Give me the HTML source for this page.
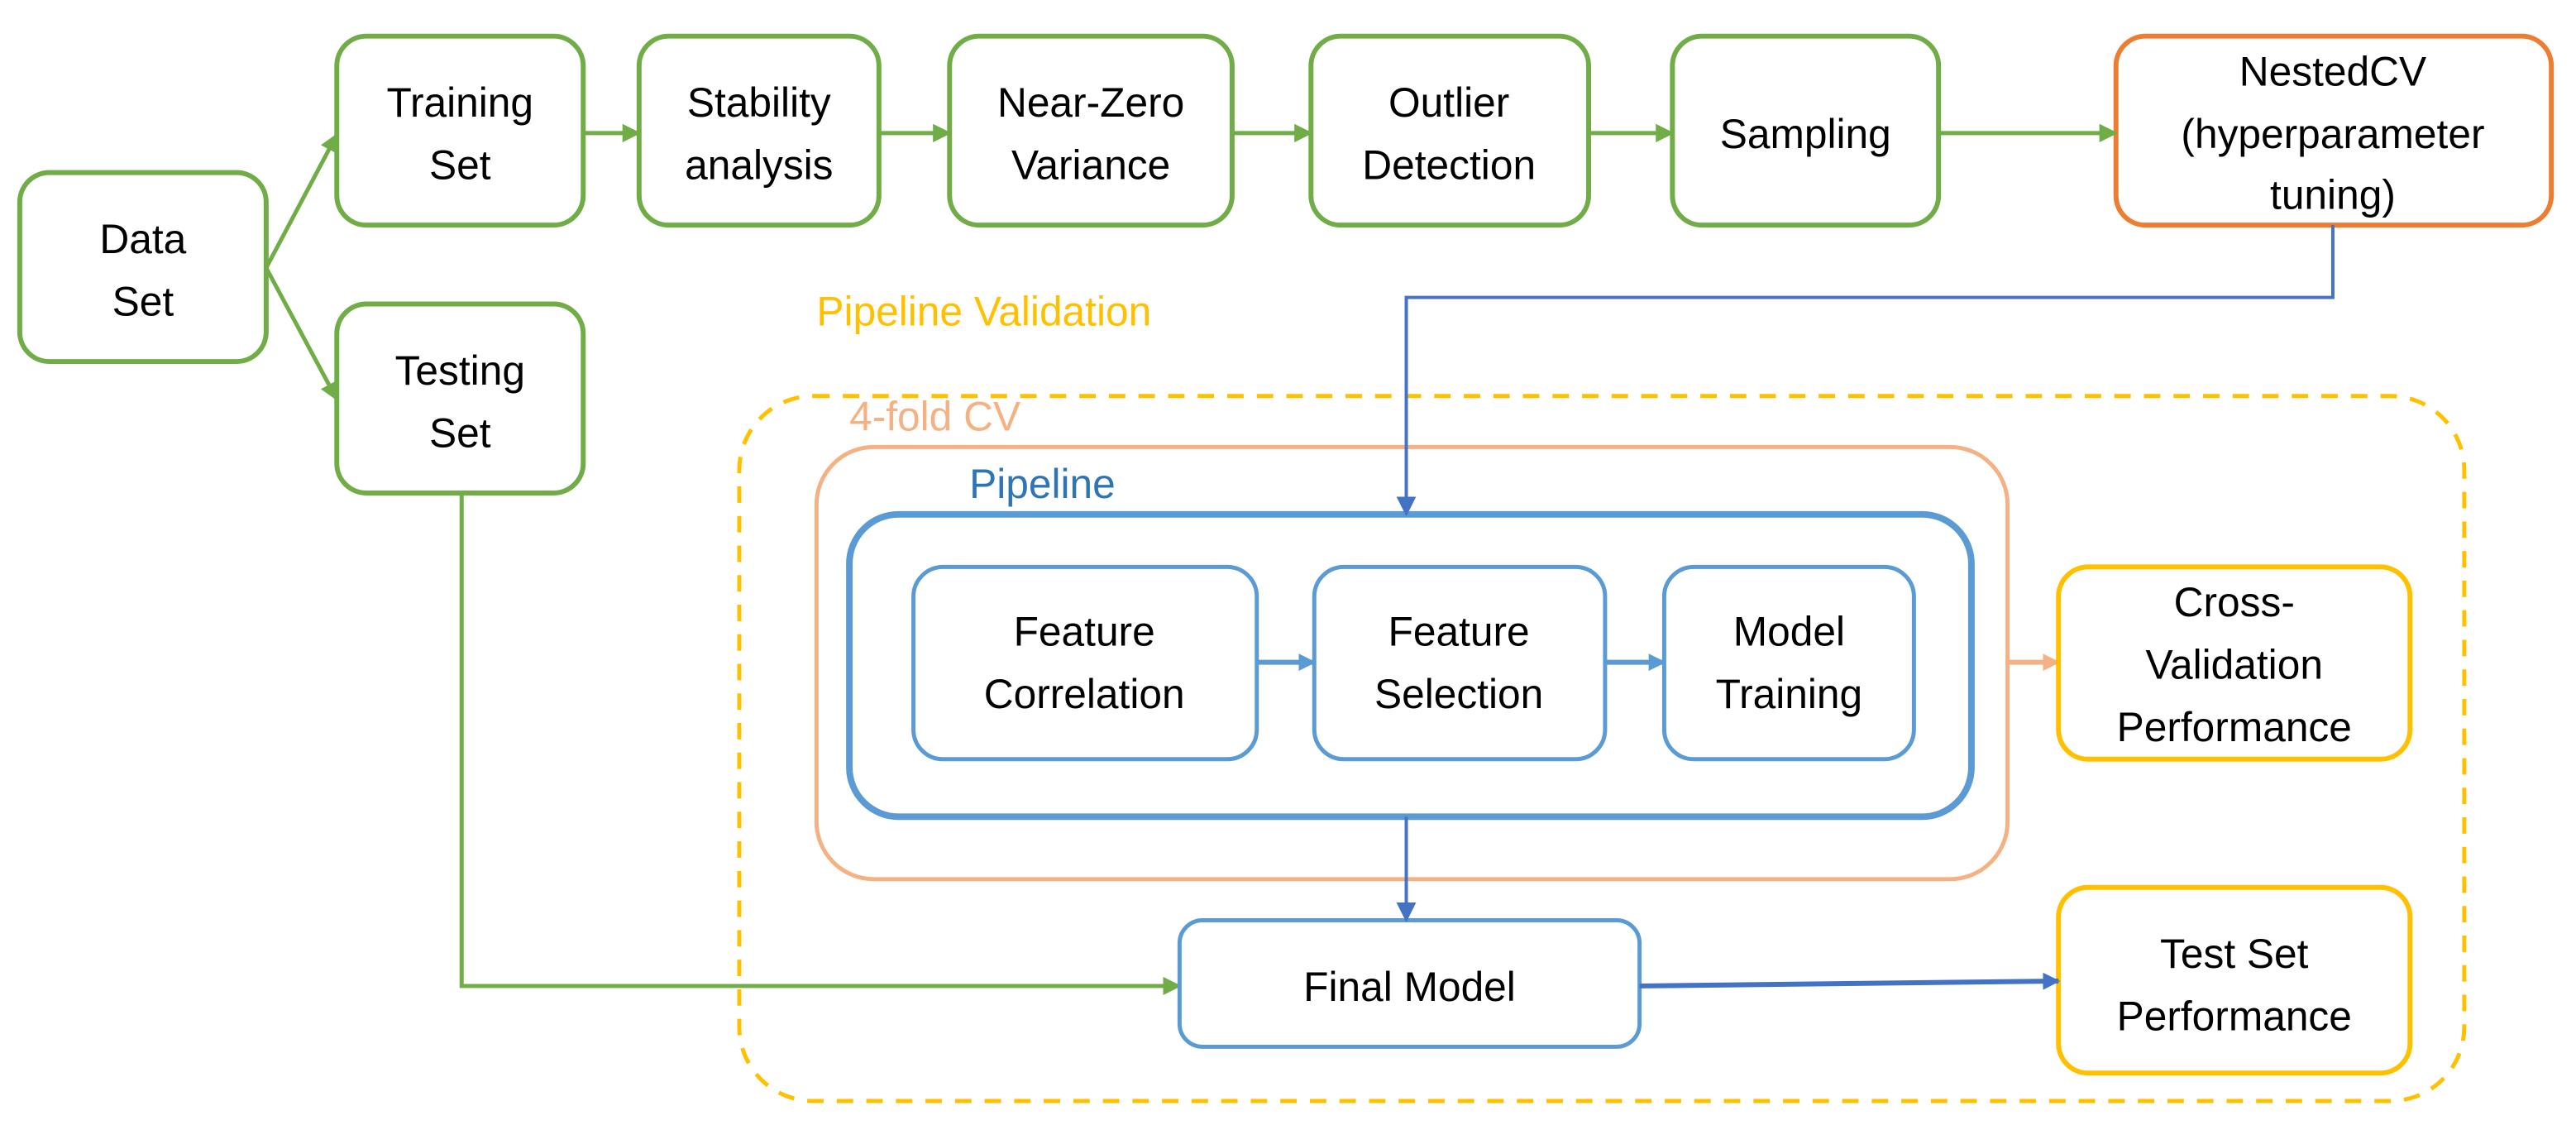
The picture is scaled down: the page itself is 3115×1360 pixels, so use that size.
<!DOCTYPE html>
<html><head><meta charset="utf-8"><style>
html,body{margin:0;padding:0;background:#fff;}
svg{display:block;}
text{font-family:"Liberation Sans",sans-serif;font-size:25px;text-anchor:middle;fill:#000;}
</style></head><body>
<svg width="3115" height="1360" viewBox="0 0 1568 684.6" xmlns="http://www.w3.org/2000/svg">
<defs>
<marker id="ag" viewBox="0 0 10 10" refX="9" refY="5" markerWidth="4.5" markerHeight="4.5" orient="auto" markerUnits="strokeWidth"><path d="M0,0L10,5L0,10z" fill="#70ad47"/></marker>
<marker id="ab" viewBox="0 0 10 10" refX="9" refY="5" markerWidth="6" markerHeight="6" orient="auto" markerUnits="strokeWidth"><path d="M0,0L10,5L0,10z" fill="#4472c4"/></marker>
<marker id="al" viewBox="0 0 10 10" refX="9" refY="5" markerWidth="3.5" markerHeight="3.5" orient="auto" markerUnits="strokeWidth"><path d="M0,0L10,5L0,10z" fill="#5b9bd5"/></marker>
<marker id="ad" viewBox="0 0 10 10" refX="9" refY="5" markerWidth="3.5" markerHeight="3.5" orient="auto" markerUnits="strokeWidth"><path d="M0,0L10,5L0,10z" fill="#4472c4"/></marker>
<marker id="ao" viewBox="0 0 10 10" refX="9" refY="5" markerWidth="3.5" markerHeight="3.5" orient="auto" markerUnits="strokeWidth"><path d="M0,0L10,5L0,10z" fill="#f4b183"/></marker>
</defs>
<g fill="none" stroke="#70ad47" stroke-width="3">
<rect x="12" y="105" width="150" height="115" rx="18"/>
<rect x="205" y="22" width="150" height="115" rx="18"/>
<rect x="389" y="22" width="146" height="115" rx="18"/>
<rect x="578" y="22" width="172" height="115" rx="18"/>
<rect x="798" y="22" width="169" height="115" rx="18"/>
<rect x="1018" y="22" width="162" height="115" rx="18"/>
<rect x="205" y="185" width="150" height="115" rx="18"/>
</g>
<rect x="1288" y="22" width="265" height="115" rx="18" fill="none" stroke="#ed7d31" stroke-width="3"/>
<g stroke="#70ad47" stroke-width="2.5" fill="none">
<line x1="162" y1="163" x2="205" y2="82" marker-end="url(#ag)"/>
<line x1="162" y1="163" x2="205" y2="243" marker-end="url(#ag)"/>
<line x1="355" y1="81" x2="389" y2="81" marker-end="url(#ag)"/>
<line x1="535" y1="81" x2="578" y2="81" marker-end="url(#ag)"/>
<line x1="750" y1="81" x2="798" y2="81" marker-end="url(#ag)"/>
<line x1="967" y1="81" x2="1018" y2="81" marker-end="url(#ag)"/>
<line x1="1180" y1="81" x2="1288" y2="81" marker-end="url(#ag)"/>
<polyline points="281,300 281,600 718,600" marker-end="url(#ag)"/>
</g>
<text x="497" y="198" style="text-anchor:start;fill:#ffc000">Pipeline Validation</text>
<rect x="450" y="241" width="1050" height="429" rx="45" fill="none" stroke="#ffc000" stroke-width="2.5" stroke-dasharray="10,8"/>
<text x="517" y="262" style="text-anchor:start;fill:#f4b183">4-fold CV</text>
<rect x="497" y="272" width="725" height="263" rx="35" fill="none" stroke="#f4b183" stroke-width="2.5"/>
<text x="590" y="303" style="text-anchor:start;fill:#2e75b6">Pipeline</text>
<rect x="517" y="313" width="683" height="184" rx="30" fill="none" stroke="#5b9bd5" stroke-width="4"/>
<g fill="none" stroke="#5b9bd5" stroke-width="2.5">
<rect x="556" y="345" width="209" height="117" rx="18"/>
<rect x="800" y="345" width="177" height="117" rx="18"/>
<rect x="1013" y="345" width="152" height="117" rx="18"/>
<rect x="718" y="560" width="280" height="77" rx="14"/>
<line x1="765" y1="403" x2="800" y2="403" marker-end="url(#al)" stroke-width="3"/>
<line x1="977" y1="403" x2="1013" y2="403" marker-end="url(#al)" stroke-width="3"/>
</g>
<line x1="1222" y1="403" x2="1253" y2="403" stroke="#f4b183" stroke-width="3" marker-end="url(#ao)"/>
<g fill="none" stroke="#ffc000" stroke-width="3">
<rect x="1253" y="345" width="214" height="117" rx="18"/>
<rect x="1253" y="540" width="214" height="113" rx="18"/>
</g>
<g fill="none" stroke="#4472c4">
<polyline points="1420,137 1420,181 856,181 856,313" stroke-width="2" marker-end="url(#ab)"/>
<line x1="856" y1="497" x2="856" y2="560" stroke-width="2" marker-end="url(#ab)"/>
<line x1="998" y1="600" x2="1253" y2="597" stroke-width="3" marker-end="url(#ad)"/>
</g>
<text x="87" y="154">Data</text><text x="87" y="192">Set</text>
<text x="280" y="71">Training</text><text x="280" y="109">Set</text>
<text x="462" y="71">Stability</text><text x="462" y="109">analysis</text>
<text x="664" y="71">Near-Zero</text><text x="664" y="109">Variance</text>
<text x="882" y="71">Outlier</text><text x="882" y="109">Detection</text>
<text x="1099" y="90">Sampling</text>
<text x="1420" y="52">NestedCV</text><text x="1420" y="90">(hyperparameter</text><text x="1420" y="127">tuning)</text>
<text x="280" y="234">Testing</text><text x="280" y="272">Set</text>
<text x="660" y="393">Feature</text><text x="660" y="431">Correlation</text>
<text x="888" y="393">Feature</text><text x="888" y="431">Selection</text>
<text x="1089" y="393">Model</text><text x="1089" y="431">Training</text>
<text x="1360" y="375">Cross-</text><text x="1360" y="413">Validation</text><text x="1360" y="451">Performance</text>
<text x="858" y="609">Final Model</text>
<text x="1360" y="589">Test Set</text><text x="1360" y="627">Performance</text>
</svg>
</body></html>
